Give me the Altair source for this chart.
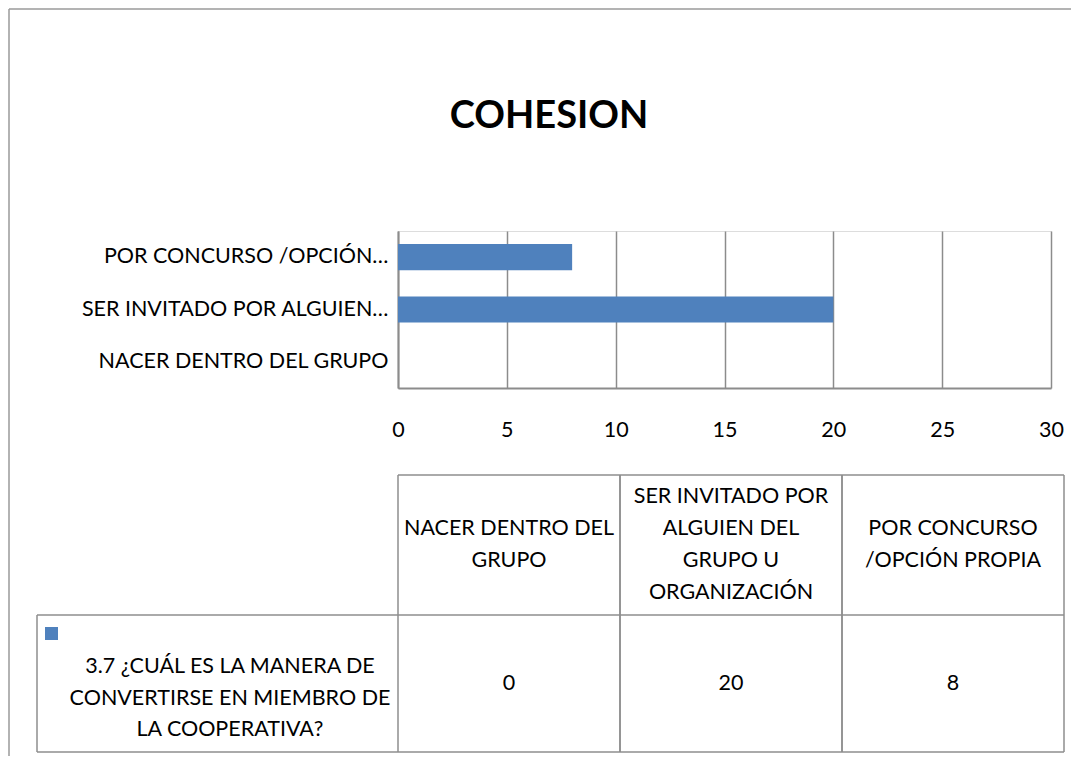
import altair as alt
import pandas as pd

# ---- data ----
categories = [
    "NACER DENTRO DEL GRUPO",
    "SER INVITADO POR ALGUIEN DEL GRUPO U ORGANIZACIÓN",
    "POR CONCURSO /OPCIÓN PROPIA",
]
values = [0, 20, 8]
axis_labels = [
    "NACER DENTRO DEL GRUPO",
    "SER INVITADO POR ALGUIEN…",
    "POR CONCURSO /OPCIÓN…",
]
table_headers = [
    "NACER DENTRO DEL\nGRUPO",
    "SER INVITADO POR\nALGUIEN DEL\nGRUPO U\nORGANIZACIÓN",
    "POR CONCURSO\n/OPCIÓN PROPIA",
]
series_name = "3.7 ¿CUÁL ES LA MANERA DE\nCONVERTIRSE EN MIEMBRO DE\nLA COOPERATIVA?"
x_ticks = [0, 5, 10, 15, 20, 25, 30]
title_text = "COHESION"

df = pd.DataFrame({"category": categories, "value": values, "header": table_headers})
series_df = pd.DataFrame({"series": [series_name]})
title_df = pd.DataFrame({"t": [title_text]})

BLUE = "#4F81BD"
GRID = "#8C8C8C"
LINE = "#8E8E8E"
FONT = "Lato"
FS = 21.5
LH = 32

W, H = 653, 157

label_expr = " : ".join(
    f"datum.value == '{c}' ? '{l}'" for c, l in zip(categories, axis_labels)
) + " : datum.label"

y_order = list(reversed(categories))

bars = alt.Chart(df).mark_bar(color=BLUE).encode(
    x=alt.X(
        "value:Q",
        scale=alt.Scale(domain=[0, 30], nice=False, zero=True),
        axis=alt.Axis(
            values=x_ticks, grid=True, gridColor=GRID, gridWidth=1.5, gridOpacity=1,
            domain=True, domainColor=GRID, domainWidth=2, ticks=False,
            labelFont=FONT, labelFontSize=FS, labelColor="#000000",
            labelBaseline="middle", labelPadding=42, labelFlush=False,
            labelOverlap=False, title=None,
        ),
    ),
    y=alt.Y(
        "category:N",
        sort=y_order,
        scale=alt.Scale(paddingInner=0.5, paddingOuter=0.25),
        axis=alt.Axis(
            labelExpr=label_expr, ticks=False, grid=False,
            domain=True, domainColor=GRID, domainWidth=2,
            labelFont=FONT, labelFontSize=FS, labelColor="#000000",
            labelPadding=10, labelLimit=500, title=None,
        ),
    ),
)

title = alt.Chart(title_df).mark_text(
    font=FONT, fontSize=38, fontWeight="bold", align="center", baseline="middle", color="#000000"
).encode(text="t:N", x=alt.value(151), y=alt.value(-114))

col_scale = alt.Scale(type="band", domain=categories, range=[0, 666], paddingInner=0, paddingOuter=0)

# header block centred vertically in its cell (cell centre at 314 px)
headers = alt.Chart(df).transform_calculate(
    nlines="split(datum.header, '\\n').length"
).transform_calculate(
    ypos=f"314 - (datum.nlines - 1) * {LH / 2}"
).mark_text(
    font=FONT, fontSize=FS, lineBreak="\n", lineHeight=LH, align="center", baseline="middle", color="#000000"
).encode(
    x=alt.X("category:N", scale=col_scale, axis=None),
    y=alt.Y("ypos:Q", scale=None, axis=None),
    text="header:N",
)

cells = alt.Chart(df).mark_text(
    font=FONT, fontSize=FS, align="center", baseline="middle", color="#000000"
).encode(
    x=alt.X("category:N", scale=col_scale, axis=None),
    y=alt.value(452.5),
    text="value:Q",
)

row_head = alt.Chart(series_df).mark_text(
    font=FONT, fontSize=FS, lineBreak="\n", lineHeight=31.5, align="center", baseline="middle", color="#000000"
).encode(x=alt.value(-168), y=alt.value(436), text="series:N")

key = alt.Chart(series_df).mark_square(color=BLUE, size=169, opacity=1).encode(
    x=alt.value(-346.5), y=alt.value(402.5)
)

vl_left = alt.Chart(df).mark_rule(color=LINE, strokeWidth=1.5).encode(
    x=alt.X("category:N", scale=col_scale, axis=None, bandPosition=0),
    y=alt.value(244), y2=alt.value(521),
)
vl_right = alt.Chart(df).mark_rule(color=LINE, strokeWidth=1.5).encode(
    x=alt.X("category:N", scale=col_scale, axis=None, bandPosition=1),
    y=alt.value(244), y2=alt.value(521),
)

def hrule(x1, x2, y, color=LINE):
    return alt.Chart(series_df).mark_rule(color=color, strokeWidth=1.5).encode(
        x=alt.value(x1), x2=alt.value(x2), y=alt.value(y)
    )

def vrule(x, y1, y2, color=LINE):
    return alt.Chart(series_df).mark_rule(color=color, strokeWidth=1.5).encode(
        x=alt.value(x), y=alt.value(y1), y2=alt.value(y2)
    )

table_lines = [
    hrule(0, 666, 244),
    hrule(-361, 666, 384),
    hrule(-361, 666, 521),
    vrule(-361, 384, 521),
]
frame = [
    hrule(-389, 680, -222, color="#9A9A9A"),
    vrule(-389, -222, 540, color="#9A9A9A"),
]

chart = alt.layer(
    bars, title, headers, cells, row_head, key, vl_left, vl_right, *table_lines, *frame
).resolve_scale(x="independent", y="independent").properties(
    width=W, height=H,
    autosize=alt.AutoSizeParams(type="none"),
    padding={"left": 390, "top": 223, "right": 20, "bottom": 368},
).configure_view(stroke=None).configure(background="white")

chart.save("out.html", embed_options={"renderer": "svg", "actions": False})
